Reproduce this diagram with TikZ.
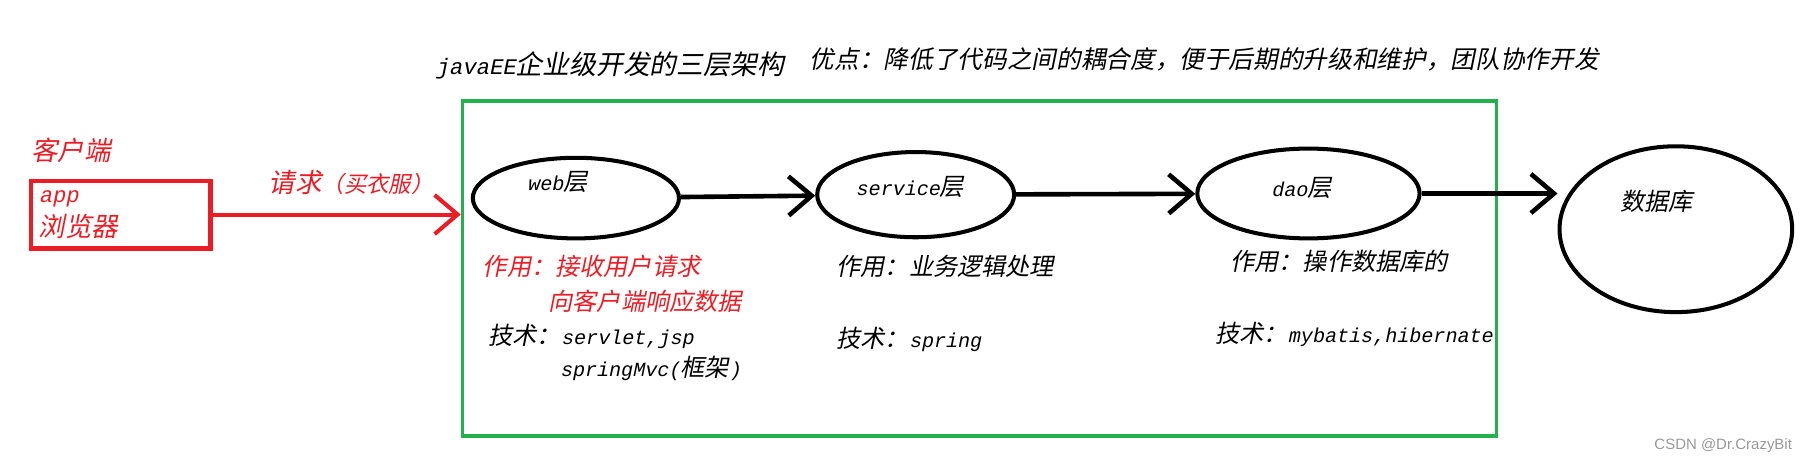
\documentclass[tikz,border=0pt]{standalone}
\usepackage{fontspec}
\setmainfont[FakeSlant=0.2,Scale=0.83]{Liberation Mono}
\newfontfamily\cjk[FakeSlant=0.2]{Noto Sans CJK SC}
\newfontfamily\wmfont{Liberation Sans}
\newcommand{\zh}[1]{{\cjk #1}}
\usetikzlibrary{arrows.meta,shapes.geometric,positioning}
\definecolor{paintred}{RGB}{237,28,36}
\definecolor{paintgreen}{RGB}{34,177,76}

\begin{document}
\begin{tikzpicture}[x=1pt, y=-1pt,
    font=\fontsize{21pt}{29pt}\selectfont,
    layer/.style={draw, ellipse, line width=3.5pt, inner sep=0pt},
    flow/.style={-{Straight Barb[length=20pt,width=34pt]}, line width=4pt},
    note/.style={anchor=west, inner sep=0pt}]

  \useasboundingbox (0,0) rectangle (1568,403);

  % headings
  \node[note, font=\fontsize{23.3pt}{29pt}\selectfont] (title) at (378,57) {javaEE\zh{企业级开发的三层架构}};
  \node[note, font=\fontsize{21.4pt}{29pt}\selectfont] (merit) at (703,52) {\zh{优点：降低了代码之间的耦合度，便于后期的升级和维护，团队协作开发}};

  % client side
  \node[note, text=paintred, font=\fontsize{23pt}{29pt}\selectfont] (clientlbl) at (27,131) {\zh{客户端}};
  \node[draw=paintred, line width=3.5pt, anchor=north west, text=paintred,
        minimum width=156pt, minimum height=59pt, inner xsep=7pt,
        text width=142pt, align=left, font=\fontsize{23pt}{29pt}\selectfont] (client) at (25,155) {app\\\zh{浏览器}};
  \node[note, text=paintred] (req) at (233,158)
    {\zh{\fontsize{23pt}{29pt}\selectfont 请求\fontsize{19.5pt}{29pt}\selectfont（买衣服）}};

  % three layers
  \node[draw=paintgreen, line width=3pt, anchor=north west,
        minimum width=898pt, minimum height=291pt] (frame) at (400,86) {};

  \node[layer, minimum width=179pt, minimum height=70pt] (web) at (500,172) {};
  \node[layer, minimum width=171pt, minimum height=74pt] (service) at (795,169) {};
  \node[layer, minimum width=193pt, minimum height=78pt] (dao) at (1136,168) {};
  \node[layer, minimum width=202pt, minimum height=144pt] (db) at (1455,199) {};

  \node at ([shift={(-16,-14)}]web.center) {web\zh{层}};
  \node at ([shift={(-5,-7)}]service.center) {service\zh{层}};
  \node at ([shift={(-6,-5)}]dao.center) {dao\zh{层}};
  \node at ([shift={(-17,-24)}]db.center) {\zh{数据库}};

  \draw[flow, draw=paintred, line width=3.5pt] (client.east) -- (client.east -| frame.west);
  \draw[flow] (web) -- (service);
  \draw[flow] (service) -- (dao);
  \draw[flow] (dao.east) -- (dao.east -| db.west);

  % notes under each layer
  \node[note, text=paintred] (webuse) at (419,231) {\zh{作用：接收用户请求}};
  \node[note, text=paintred] (webuse2) at (476,262) {\zh{向客户端响应数据}};
  \node[note] (webtech) at (424,292) {\zh{技术：}servlet,jsp};
  \node[note] (webtech2) at (486,320) {springMvc(\zh{框架})};

  \node[note] (seruse) at (726,231) {\zh{作用：业务逻辑处理}};
  \node[note] (sertech) at (726,295) {\zh{技术：}spring};

  \node[note] (daouse) at (1068,227) {\zh{作用：操作数据库的}};
  \node[note] (daotech) at (1055,290) {\zh{技术：}mybatis,hibernate};

  \node[anchor=east, inner sep=0pt, text=black!40, font=\wmfont\fontsize{13pt}{15pt}\selectfont] (mark) at (1556,387) {CSDN @Dr.CrazyBit};
\end{tikzpicture}
\end{document}
